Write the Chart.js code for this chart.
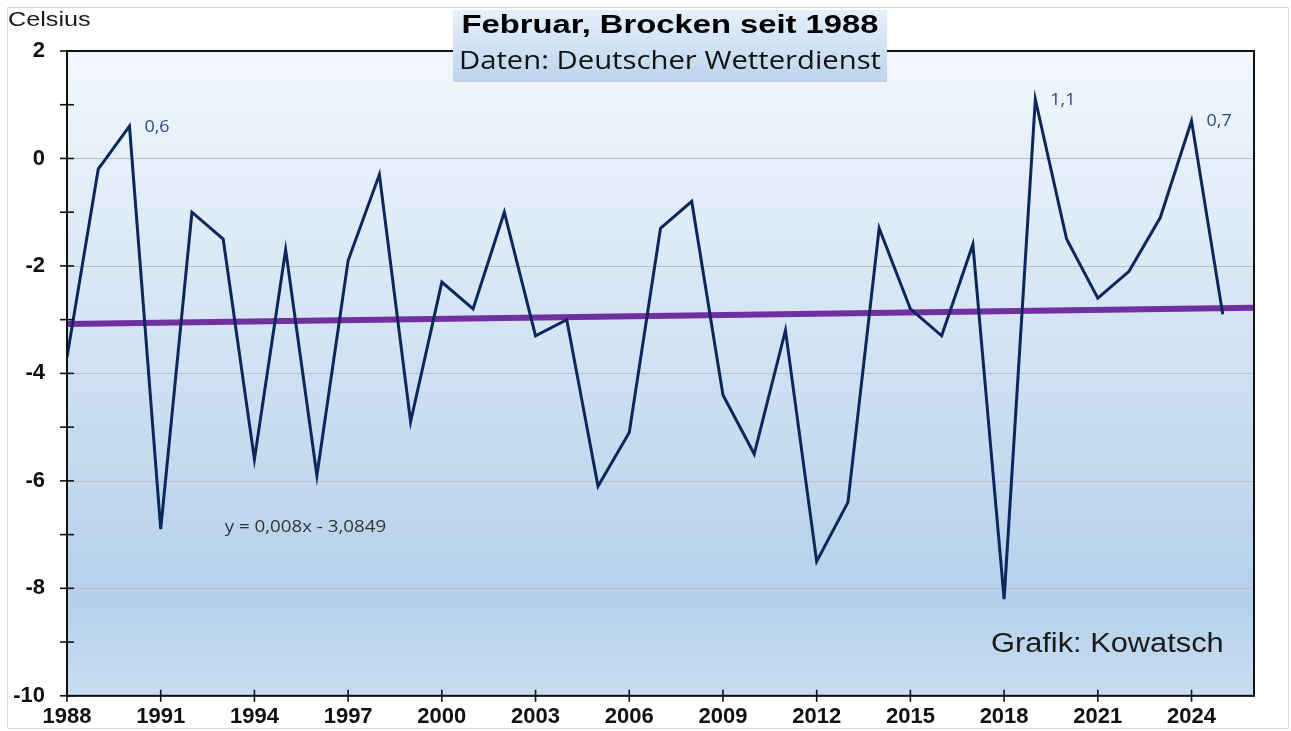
<!DOCTYPE html>
<html>
<head>
<meta charset="utf-8">
<script src="https://cdn.jsdelivr.net/npm/chart.js@4.4.1/dist/chart.umd.min.js"></script>
<style>
html,body{margin:0;padding:0;background:#fff;}
#wrap{width:1291px;height:731px;position:relative;}
</style>
</head>
<body>
<div id="wrap"><canvas id="c" width="1291" height="731"></canvas></div>
<script>
const years = [1988,1989,1990,1991,1992,1993,1994,1995,1996,1997,1998,1999,2000,2001,2002,2003,2004,2005,2006,2007,2008,2009,2010,2011,2012,2013,2014,2015,2016,2017,2018,2019,2020,2021,2022,2023,2024,2025];
const temps = [-3.7,-0.2,0.6,-6.9,-1.0,-1.5,-5.6,-1.7,-5.9,-1.9,-0.3,-4.9,-2.3,-2.8,-1.0,-3.3,-3.0,-6.1,-5.1,-1.3,-0.8,-4.4,-5.5,-3.2,-7.5,-6.4,-1.3,-2.8,-3.3,-1.6,-8.2,1.1,-1.5,-2.6,-2.1,-1.1,0.7,-2.9];
const trendYears = [1988, 2026];
const trendValues = [-3.08, -2.78];
const xTickLabels = [1988,1991,1994,1997,2000,2003,2006,2009,2012,2015,2018,2021,2024];
const yTickValues = [-10,-9,-8,-7,-6,-5,-4,-3,-2,-1,0,1,2];
const labelledYears = [1990, 2019, 2024];
const titleText = 'Februar, Brocken seit 1988';
const subtitleText = 'Daten: Deutscher Wetterdienst';
const equationText = 'y = 0,008x - 3,0849';
const creditText = 'Grafik: Kowatsch';
const unitText = 'Celsius';

const fmt = v => String(v).replace('.', ',');

function stretchText(ctx, text, x, y, sx, align) {
  ctx.save();
  ctx.translate(x, y);
  ctx.scale(sx, 1);
  ctx.textAlign = align;
  ctx.fillText(text, 0, 0);
  ctx.restore();
}

const decor = {
  id: 'decor',
  beforeDatasetsDraw(chart) {
    const {ctx, chartArea: a} = chart;
    ctx.save();
    const g = ctx.createLinearGradient(0, a.top, 0, a.bottom);
    g.addColorStop(0, '#f2f7fd');
    g.addColorStop(0.45, '#d2e3f3');
    g.addColorStop(0.85, '#b4d0eb');
    g.addColorStop(1, '#c8def2');
    ctx.fillStyle = g;
    ctx.fillRect(a.left, a.top, a.right - a.left, a.bottom - a.top);
    const ys = chart.scales.y;
    ctx.strokeStyle = '#bdbdbd';
    ctx.lineWidth = 1;
    yTickValues.filter(v => v % 2 === 0).forEach(v => {
      const py = Math.round(ys.getPixelForValue(v)) + 0.5;
      ctx.beginPath(); ctx.moveTo(a.left, py); ctx.lineTo(a.right, py); ctx.stroke();
    });
    ctx.restore();
  },
  afterDraw(chart) {
    const {ctx, chartArea: a, scales: {x, y}} = chart;
    ctx.save();
    ctx.strokeStyle = '#d9d9d9';
    ctx.lineWidth = 1;
    ctx.strokeRect(7.5, 7.5, 1281, 721);
    ctx.strokeStyle = '#111';
    ctx.lineWidth = 2;
    ctx.strokeRect(a.left, a.top, a.right - a.left, a.bottom - a.top);
    ctx.lineWidth = 1.6;
    yTickValues.forEach(v => {
      const py = y.getPixelForValue(v);
      ctx.beginPath(); ctx.moveTo(a.left - 7, py); ctx.lineTo(a.left + 7, py); ctx.stroke();
    });
    xTickLabels.forEach(v => {
      const px = x.getPixelForValue(v);
      ctx.beginPath(); ctx.moveTo(px, a.bottom - 6); ctx.lineTo(px, a.bottom + 6); ctx.stroke();
    });
    const meta = chart.getDatasetMeta(0);
    ctx.fillStyle = '#2c4a88';
    ctx.font = '16px "Open Sans", sans-serif';
    ctx.textBaseline = 'middle';
    labelledYears.forEach(yr => {
      const i = years.indexOf(yr);
      const el = meta.data[i];
      stretchText(ctx, fmt(temps[i]), el.x + 15, el.y + 1, 1.12, 'left');
    });
    ctx.fillStyle = '#333';
    ctx.font = '16px "Open Sans", sans-serif';
    stretchText(ctx, equationText, x.getPixelForValue(1993.05), y.getPixelForValue(-6.87), 1.17, 'left');
    ctx.fillStyle = '#1a1a1a';
    ctx.font = '27px "Liberation Sans", Arial, sans-serif';
    stretchText(ctx, creditText, 991, 645, 1.14, 'left');
    ctx.font = '21px "Liberation Sans", Arial, sans-serif';
    stretchText(ctx, unitText, 8, 20, 1.2, 'left');
    const bx = 453, by = 10, bw = 434, bh = 72;
    const tg = ctx.createLinearGradient(0, by, 0, by + bh);
    tg.addColorStop(0, '#e6f0fa');
    tg.addColorStop(1, '#bcd4ee');
    ctx.fillStyle = tg;
    ctx.fillRect(bx, by, bw, bh);
    ctx.fillStyle = '#000';
    ctx.font = 'bold 26px "Liberation Sans", Arial, sans-serif';
    stretchText(ctx, titleText, bx + bw / 2, 26, 1.26, 'center');
    ctx.fillStyle = '#111';
    ctx.font = '25px "Open Sans", sans-serif';
    stretchText(ctx, subtitleText, bx + bw / 2, 62, 1.17, 'center');
    ctx.restore();
  }
};

new Chart(document.getElementById('c'), {
  type: 'line',
  data: {
    datasets: [
      {
        data: years.map((yr, i) => ({x: yr, y: temps[i]})),
        borderColor: '#0d275c',
        borderWidth: 3,
        pointRadius: 0,
        tension: 0,
        fill: false
      },
      {
        data: trendYears.map((yr, i) => ({x: yr, y: trendValues[i]})),
        borderColor: '#7030a0',
        borderWidth: 6,
        pointRadius: 0,
        tension: 0,
        fill: false
      }
    ]
  },
  options: {
    responsive: false,
    animation: false,
    devicePixelRatio: 1,
    layout: {padding: {top: 51, right: 37, left: 0, bottom: 0}},
    plugins: {legend: {display: false}, tooltip: {enabled: false}},
    scales: {
      x: {
        type: 'linear',
        min: 1988,
        max: 2026,
        afterBuildTicks: s => { s.ticks = xTickLabels.map(v => ({value: v})); },
        afterFit: s => { s.height = 35; },
        grid: {display: false, drawTicks: false},
        border: {display: false},
        ticks: {
          autoSkip: false,
          maxRotation: 0,
          padding: 8,
          color: '#111',
          font: {family: '"Liberation Sans", Arial, sans-serif', size: 22, weight: 'bold'},
          callback: v => String(v)
        }
      },
      y: {
        min: -10,
        max: 2,
        afterBuildTicks: s => { s.ticks = yTickValues.map(v => ({value: v})); },
        afterFit: s => { s.width = 67; },
        grid: {display: false, drawTicks: false},
        border: {display: false},
        ticks: {
          autoSkip: false,
          padding: 22,
          color: '#111',
          font: {family: '"Liberation Sans", Arial, sans-serif', size: 22, weight: 'bold'},
          callback: v => (v % 2 === 0 ? String(v) : '')
        }
      }
    }
  },
  plugins: [decor]
});
</script>
</body>
</html>
